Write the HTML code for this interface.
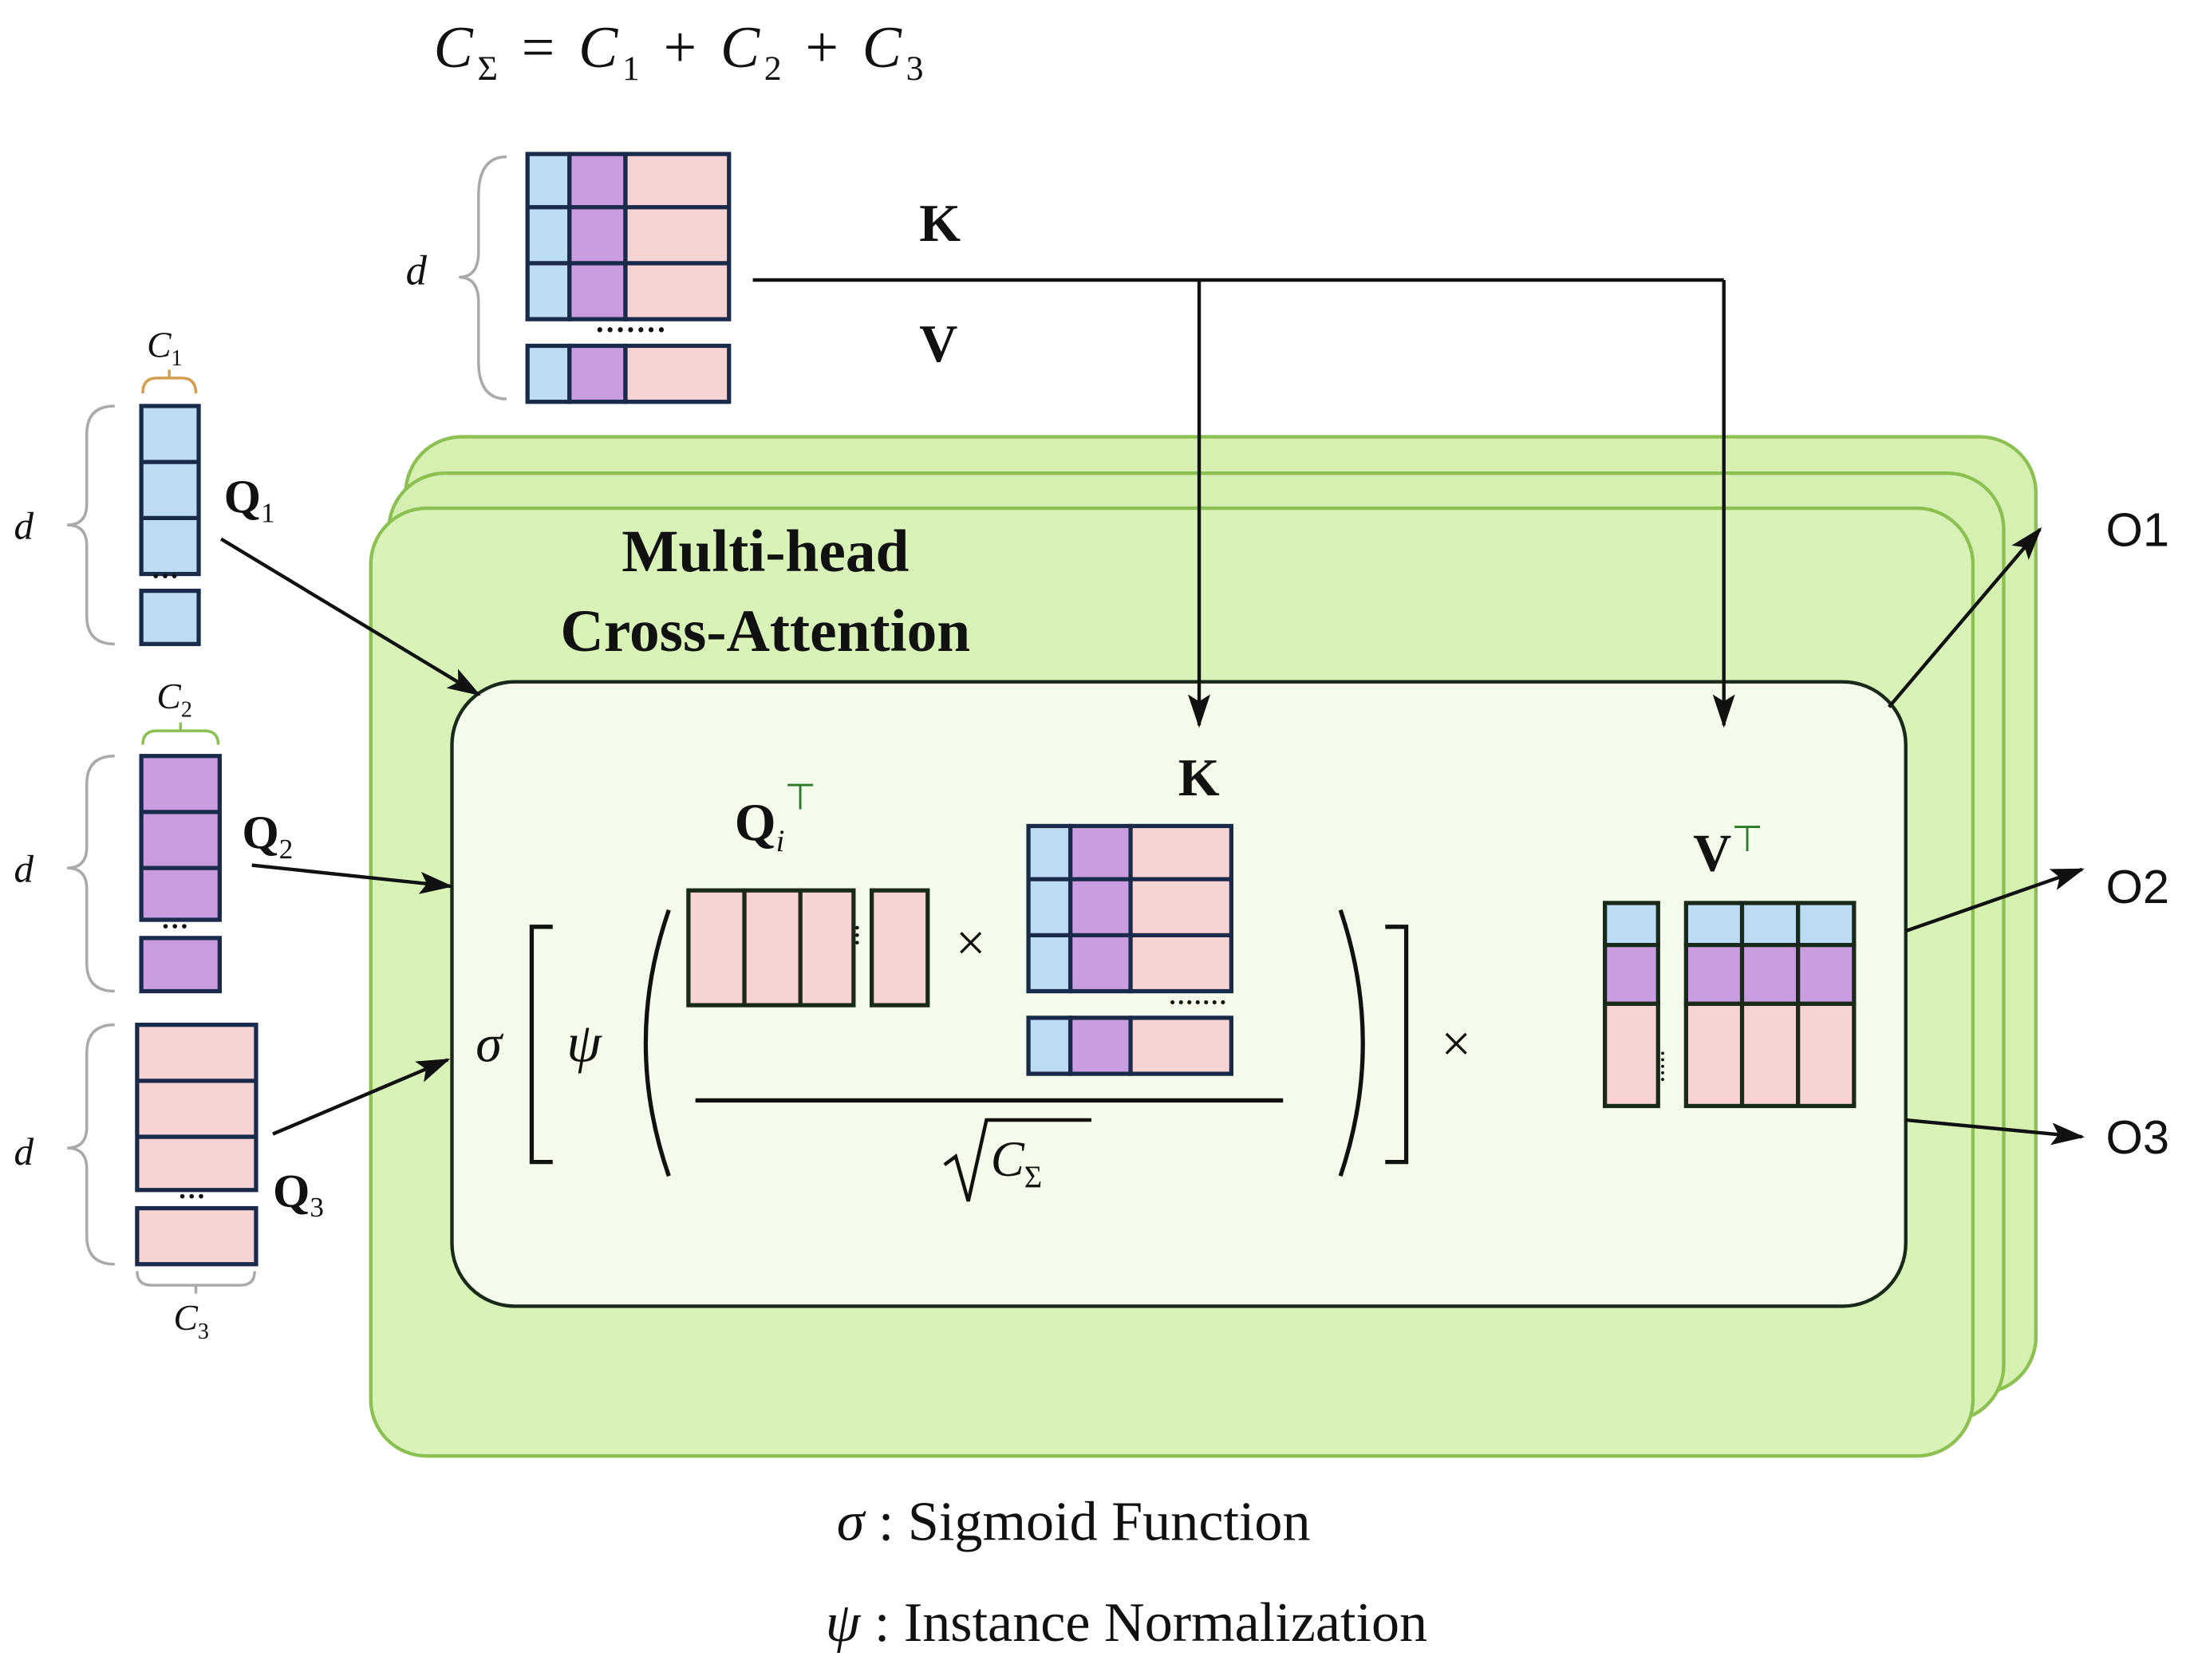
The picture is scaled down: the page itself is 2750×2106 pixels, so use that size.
<!DOCTYPE html>
<html><head><meta charset="utf-8"><style>
html,body{margin:0;padding:0;background:#fff;}
svg{display:block;}
text{font-family:"Liberation Serif",serif;fill:#111;}
.b{font-weight:bold;}
.i{font-style:italic;}
</style></head><body>
<svg width="2750" height="2106" viewBox="0 0 1568 1200" preserveAspectRatio="none" xmlns="http://www.w3.org/2000/svg">
<defs>
<marker id="ah" markerWidth="24" markerHeight="16" refX="22" refY="8" orient="auto" markerUnits="userSpaceOnUse" viewBox="0 0 24 16">
<path d="M0,0 L24,8 L0,16 L5,8 z" fill="#111"/></marker>
</defs>
<!-- top formula -->
<text x="310" y="48" font-size="42" class="i" textLength="350" lengthAdjust="spacing">C<tspan font-size="25" dy="9" font-style="normal">Σ</tspan><tspan dy="-9" font-style="normal"> = </tspan>C<tspan font-size="25" dy="9" font-style="normal">1</tspan><tspan dy="-9" font-style="normal"> + </tspan>C<tspan font-size="25" dy="9" font-style="normal">2</tspan><tspan dy="-9" font-style="normal"> + </tspan>C<tspan font-size="25" dy="9" font-style="normal">3</tspan></text>

<!-- K/V top matrix -->
<g stroke="#1a2a4a" stroke-width="3">
<rect x="377" y="110" width="30" height="118" fill="#bcdcf5"/>
<rect x="407" y="110" width="40" height="118" fill="#c99de0"/>
<rect x="447" y="110" width="74" height="118" fill="#f8d3d3"/>
<line x1="377" y1="148" x2="521" y2="148"/><line x1="377" y1="188" x2="521" y2="188"/>
<rect x="377" y="247" width="30" height="40" fill="#bcdcf5"/>
<rect x="407" y="247" width="40" height="40" fill="#c99de0"/>
<rect x="447" y="247" width="74" height="40" fill="#f8d3d3"/>
</g>
<text x="425" y="243" font-size="22" class="b">·······</text>
<path d="M362,112 Q342,112 342,140 L342,180 Q342,198 328,198 Q342,198 342,216 L342,258 Q342,285 362,285" fill="none" stroke="#aaa" stroke-width="2"/>
<text x="290" y="203" font-size="30" class="i">d</text>
<text x="657" y="172" font-size="38" class="b">K</text>
<text x="657" y="258" font-size="38" class="b">V</text>
<line x1="538" y1="200" x2="1232" y2="200" stroke="#111" stroke-width="2.5"/>

<!-- green panels -->
<rect x="290" y="312" width="1165" height="683" rx="40" fill="#d6f0b2" stroke="#8cc152" stroke-width="2.5"/>
<rect x="278" y="338" width="1154" height="677" rx="40" fill="#d6f0b2" stroke="#8cc152" stroke-width="2.5"/>
<rect x="265" y="363" width="1145" height="677" rx="40" fill="#d9f2b8" stroke="#8cc152" stroke-width="2.5"/>
<text x="547" y="408" font-size="43" class="b" text-anchor="middle">Multi-head</text>
<text x="547" y="465" font-size="43" class="b" text-anchor="middle">Cross-Attention</text>

<rect x="323" y="487" width="1039" height="446" rx="45" fill="#f4fbea" stroke="#1a2a1a" stroke-width="2.5"/>

<line x1="1232" y1="200" x2="1232" y2="518" stroke="#111" stroke-width="2.5" marker-end="url(#ah)"/>
<line x1="857" y1="200" x2="857" y2="518" stroke="#111" stroke-width="2.5" marker-end="url(#ah)"/>

<!-- Q1 -->
<g stroke="#1a2a4a" stroke-width="3" fill="#bcdcf5">
<rect x="101" y="290" width="41" height="120"/><line x1="101" y1="330" x2="142" y2="330"/><line x1="101" y1="370" x2="142" y2="370"/>
<rect x="101" y="422" width="41" height="38"/>
</g>
<text x="108" y="418" font-size="20" class="b">···</text>
<path d="M82,290 Q62,290 62,310 L62,360 Q62,375 48,375 Q62,375 62,390 L62,440 Q62,460 82,460" fill="none" stroke="#aaa" stroke-width="2"/>
<text x="10" y="385" font-size="28" class="i">d</text>
<path d="M102,281 Q102,270 112,270 L121,270 L121,264 L121,270 L130,270 Q140,270 140,281" fill="none" stroke="#d4a050" stroke-width="2"/>
<text x="105" y="255" font-size="26" class="i">C<tspan font-size="16" dy="6" font-style="normal">1</tspan></text>
<text x="160" y="366" font-size="34" class="b">Q<tspan font-size="20" dy="7" font-weight="normal">1</tspan></text>

<!-- Q2 -->
<g stroke="#1a2a4a" stroke-width="3" fill="#c99de0">
<rect x="101" y="540" width="56" height="117"/><line x1="101" y1="580" x2="157" y2="580"/><line x1="101" y1="620" x2="157" y2="620"/>
<rect x="101" y="670" width="56" height="38"/>
</g>
<text x="115" y="668" font-size="20" class="b">···</text>
<path d="M82,540 Q62,540 62,560 L62,605 Q62,620 48,620 Q62,620 62,635 L62,688 Q62,708 82,708" fill="none" stroke="#aaa" stroke-width="2"/>
<text x="10" y="630" font-size="28" class="i">d</text>
<path d="M102,532 Q102,522 112,522 L129,522 L129,516 L129,522 L146,522 Q156,522 156,532" fill="none" stroke="#8cc152" stroke-width="2"/>
<text x="112" y="506" font-size="26" class="i">C<tspan font-size="16" dy="6" font-style="normal">2</tspan></text>
<text x="173" y="606" font-size="34" class="b">Q<tspan font-size="20" dy="7" font-weight="normal">2</tspan></text>

<!-- Q3 -->
<g stroke="#1a2a4a" stroke-width="3" fill="#f8d3d3">
<rect x="98" y="732" width="85" height="118"/><line x1="98" y1="772" x2="183" y2="772"/><line x1="98" y1="812" x2="183" y2="812"/>
<rect x="98" y="863" width="85" height="40"/>
</g>
<text x="127" y="861" font-size="20" class="b">···</text>
<path d="M82,732 Q62,732 62,752 L62,805 Q62,820 48,820 Q62,820 62,835 L62,883 Q62,903 82,903" fill="none" stroke="#aaa" stroke-width="2"/>
<text x="10" y="832" font-size="28" class="i">d</text>
<path d="M98,908 Q98,918 108,918 L140,918 L140,924 L140,918 L172,918 Q182,918 182,908" fill="none" stroke="#aaa" stroke-width="2"/>
<text x="124" y="950" font-size="26" class="i">C<tspan font-size="16" dy="6" font-style="normal">3</tspan></text>
<text x="195" y="862" font-size="34" class="b">Q<tspan font-size="20" dy="7" font-weight="normal">3</tspan></text>

<!-- Q arrows -->
<line x1="158" y1="385" x2="342" y2="496" stroke="#111" stroke-width="2.5" marker-end="url(#ah)"/>
<line x1="180" y1="618" x2="322" y2="633" stroke="#111" stroke-width="2.5" marker-end="url(#ah)"/>
<line x1="195" y1="810" x2="320" y2="757" stroke="#111" stroke-width="2.5" marker-end="url(#ah)"/>

<!-- formula inside -->
<text x="340" y="758" font-size="38" class="i">σ</text>
<polyline points="395,662 380,662 380,830 395,830" fill="none" stroke="#111" stroke-width="3"/>
<text x="405" y="758" font-size="40" class="i">ψ</text>
<path d="M478,650 Q445,745 478,840" fill="none" stroke="#111" stroke-width="3"/>
<text x="525" y="600" font-size="38" class="b">Q<tspan font-size="22" dy="8" class="i" font-weight="normal">i</tspan><tspan font-size="26" dy="-30" font-weight="normal" fill="#2a7a2a">⊤</tspan></text>
<g stroke="#1a2a1a" stroke-width="3" fill="#f8d3d3">
<rect x="492" y="636" width="118" height="82"/><line x1="532" y1="636" x2="532" y2="718"/><line x1="572" y1="636" x2="572" y2="718"/>
<rect x="623" y="636" width="40" height="82"/>
</g>
<text x="612" y="660" font-size="16" class="b" writing-mode="tb">···</text>
<text x="683" y="686" font-size="38" fill="#333">×</text>
<text x="842" y="568" font-size="38" class="b">K</text>
<g stroke="#1a2a4a" stroke-width="3">
<rect x="735" y="590" width="30" height="118" fill="#bcdcf5"/>
<rect x="765" y="590" width="43" height="118" fill="#c99de0"/>
<rect x="808" y="590" width="72" height="118" fill="#f8d3d3"/>
<line x1="735" y1="628" x2="880" y2="628"/><line x1="735" y1="668" x2="880" y2="668"/>
<rect x="735" y="727" width="30" height="40" fill="#bcdcf5"/>
<rect x="765" y="727" width="43" height="40" fill="#c99de0"/>
<rect x="808" y="727" width="72" height="40" fill="#f8d3d3"/>
</g>
<text x="835" y="722" font-size="18" class="b">·······</text>
<line x1="497" y1="786" x2="917" y2="786" stroke="#111" stroke-width="3"/>
<path d="M675,832 L683,826 L692,858 L705,800 L780,800" fill="none" stroke="#111" stroke-width="2.5"/>
<text x="708" y="840" font-size="36" class="i">C<tspan font-size="22" dy="8" font-style="normal">Σ</tspan></text>
<path d="M958,650 Q990,745 958,840" fill="none" stroke="#111" stroke-width="3"/>
<polyline points="990,662 1005,662 1005,830 990,830" fill="none" stroke="#111" stroke-width="3"/>
<text x="1030" y="758" font-size="38" fill="#333">×</text>

<!-- V^T -->
<text x="1210" y="622" font-size="38" class="b">V<tspan font-size="26" dy="-14" font-weight="normal" fill="#2a7a2a">⊤</tspan></text>
<g stroke="#1a2a1a" stroke-width="3">
<rect x="1147" y="645" width="38" height="30" fill="#bcdcf5"/>
<rect x="1147" y="675" width="38" height="42" fill="#c99de0"/>
<rect x="1147" y="717" width="38" height="73" fill="#f8d3d3"/>
<rect x="1205" y="645" width="120" height="30" fill="#bcdcf5"/>
<rect x="1205" y="675" width="120" height="42" fill="#c99de0"/>
<rect x="1205" y="717" width="120" height="73" fill="#f8d3d3"/>
<line x1="1245" y1="645" x2="1245" y2="790"/><line x1="1285" y1="645" x2="1285" y2="790"/>
</g>
<text x="1188" y="750" font-size="14" class="b" writing-mode="tb">·····</text>

<!-- outputs -->
<line x1="1350" y1="505" x2="1458" y2="378" stroke="#111" stroke-width="2.5" marker-end="url(#ah)"/>
<line x1="1362" y1="665" x2="1488" y2="621" stroke="#111" stroke-width="2.5" marker-end="url(#ah)"/>
<line x1="1362" y1="800" x2="1488" y2="812" stroke="#111" stroke-width="2.5" marker-end="url(#ah)"/>
<text x="1505" y="390" font-size="34" style="font-family:'Liberation Sans',sans-serif">O1</text>
<text x="1505" y="645" font-size="34" style="font-family:'Liberation Sans',sans-serif">O2</text>
<text x="1505" y="824" font-size="34" style="font-family:'Liberation Sans',sans-serif">O3</text>

<!-- legend -->
<text x="598" y="1100" font-size="40"><tspan class="i">σ</tspan> : Sigmoid Function</text>
<text x="590" y="1172" font-size="40"><tspan class="i">ψ</tspan> : Instance Normalization</text>
</svg>
</body></html>
